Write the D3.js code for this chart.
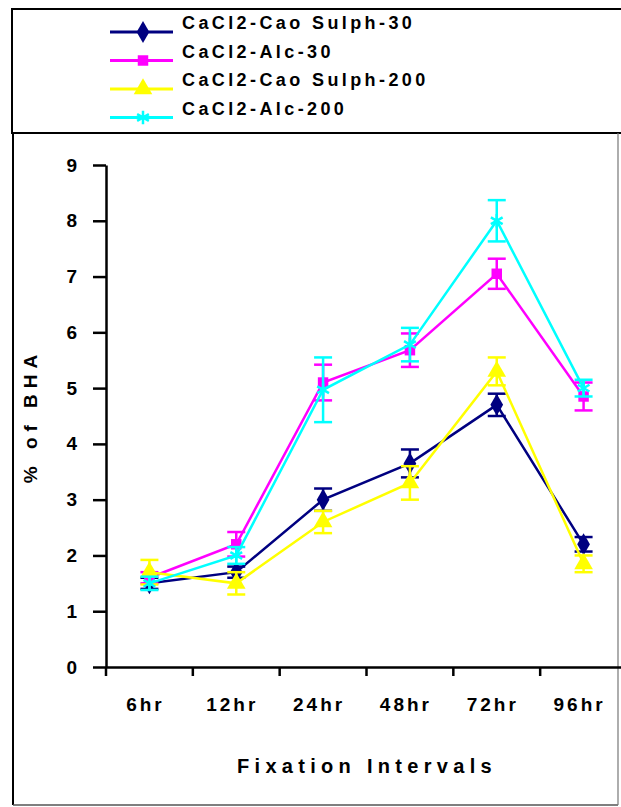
<!DOCTYPE html>
<html>
<head>
<meta charset="utf-8">
<script src="https://cdn.jsdelivr.net/npm/d3@7"></script>
<style>
  body { margin: 0; background: #fff; }
  svg { display: block; }
  text { font-family: "Liberation Sans", Arial, sans-serif; font-weight: bold; fill: #000; }
</style>
</head>
<body>
<div id="chart"></div>
<script>
/* Datos */
const intervals = ["6hr", "12hr", "24hr", "48hr", "72hr", "96hr"];
const seriesNames = ["CaCl2-Cao Sulph-30", "CaCl2-Alc-30", "CaCl2-Cao Sulph-200", "CaCl2-Alc-200"];
const seriesColors = ["#000080", "#ff00ff", "#ffff00", "#00ffff"];
const seriesSymbols = ["diamond", "square", "triangle", "asterisk"];

const caoSulph30 = [1.5, 1.7, 3.0, 3.65, 4.7, 2.2];
const caoSulph30Err = [0.1, 0.1, 0.2, 0.25, 0.2, 0.13];
const alc30 = [1.6, 2.2, 5.1, 5.68, 7.05, 4.85];
const alc30Err = [0.1, 0.22, 0.32, 0.3, 0.27, 0.25];
const caoSulph200 = [1.7, 1.5, 2.6, 3.3, 5.3, 1.85];
const caoSulph200Err = [0.22, 0.2, 0.2, 0.3, 0.25, 0.15];
const alc200 = [1.5, 2.0, 4.97, 5.78, 8.0, 5.0];
const alc200Err = [0.12, 0.15, 0.58, 0.3, 0.37, 0.15];

const yTicks = [0, 1, 2, 3, 4, 5, 6, 7, 8, 9];
const yLabel = "% of BHA";
const xLabel = "Fixation Intervals";

const values = [caoSulph30, alc30, caoSulph200, alc200];
const errors = [caoSulph30Err, alc30Err, caoSulph200Err, alc200Err];

/* Dimensiones */
const W = 621, H = 807;
const svg = d3.select("#chart").append("svg").attr("width", W).attr("height", H);

// marcos
svg.append("rect").attr("x", 12).attr("y", 9).attr("width", 640).attr("height", 124)
  .attr("fill", "none").attr("stroke", "#000").attr("stroke-width", 2);
svg.append("line").attr("x1", 13).attr("x2", 13).attr("y1", 133).attr("y2", 805).attr("stroke", "#000").attr("stroke-width", 2);
svg.append("line").attr("x1", 13).attr("x2", 618).attr("y1", 805).attr("y2", 805).attr("stroke", "#555").attr("stroke-width", 1.5);
svg.append("line").attr("x1", 618).attr("x2", 618).attr("y1", 133).attr("y2", 805).attr("stroke", "#777").attr("stroke-width", 1.2);

/* Escalas */
const x = d3.scaleBand().domain(intervals).range([106, 627]);
const y = d3.scaleLinear().domain([0, 9]).range([667, 165]);
const cx = d => x(d) + x.bandwidth() / 2;

// eje Y
const gy = svg.append("g").attr("transform", "translate(106,0)")
  .call(d3.axisLeft(y).tickValues(yTicks).tickSize(13).tickSizeOuter(0).tickPadding(16));
gy.select(".domain").attr("stroke", "#000").attr("stroke-width", 2.5);
gy.selectAll(".tick line").attr("stroke", "#000").attr("stroke-width", 2.5);
gy.selectAll(".tick text").style("font-size", "19px").style("font-family", "Liberation Sans, Arial, sans-serif").style("font-weight", "bold");

// eje X
const gx = svg.append("g").attr("transform", "translate(0,667)")
  .call(d3.axisBottom(x).tickSize(0).tickSizeOuter(0).tickPadding(31));
gx.select(".domain").attr("stroke", "#000").attr("stroke-width", 2.5);
gx.selectAll(".tick text").attr("dx", -4).style("font-size", "19px").style("letter-spacing", "3px")
  .style("font-family", "Liberation Sans, Arial, sans-serif").style("font-weight", "bold");
gx.selectAll(".bound").data(intervals).join("line").attr("class", "bound")
  .attr("x1", d => x(d)).attr("x2", d => x(d)).attr("y1", 0).attr("y2", 9)
  .attr("stroke", "#000").attr("stroke-width", 2.5);

svg.append("text").attr("x", 367).attr("y", 773).attr("text-anchor", "middle")
  .style("font-size", "20px").style("letter-spacing", "5.3px").text(xLabel);
svg.append("text").attr("transform", "translate(37,416) rotate(-90)").attr("text-anchor", "middle")
  .style("font-size", "19px").style("letter-spacing", "6px").text(yLabel);

/* Símbolos */
const symbolType = {
  diamond: d3.symbolDiamond,
  square: d3.symbolSquare,
  triangle: d3.symbolTriangle,
  asterisk: d3.symbolAsterisk
};
const symbolSize = { diamond: 140, square: 110, triangle: 150, asterisk: 130 };

function drawMarker(g, kind, color, px, py) {
  const path = d3.symbol(symbolType[kind], symbolSize[kind])();
  const m = g.append("path").attr("d", path).attr("transform", `translate(${px},${py})`);
  if (kind === "asterisk") m.attr("fill", "none").attr("stroke", color).attr("stroke-width", 2.5);
  else m.attr("fill", color);
}

/* Series */
const line = d3.line().x((v, i) => cx(intervals[i])).y(v => y(v));
values.forEach((vals, s) => {
  const g = svg.append("g");
  const color = seriesColors[s];
  g.append("path").datum(vals).attr("d", line).attr("fill", "none")
    .attr("stroke", color).attr("stroke-width", 2.5);
  vals.forEach((v, i) => {
    const px = cx(intervals[i]);
    const e = errors[s][i];
    g.append("line").attr("x1", px).attr("x2", px).attr("y1", y(v - e)).attr("y2", y(v + e))
      .attr("stroke", color).attr("stroke-width", 2.5);
    [v - e, v + e].forEach(ev => {
      g.append("line").attr("x1", px - 9).attr("x2", px + 9).attr("y1", y(ev)).attr("y2", y(ev))
        .attr("stroke", color).attr("stroke-width", 2.5);
    });
    drawMarker(g, seriesSymbols[s], color, px, y(v));
  });
});

/* Leyenda */
const legend = svg.append("g");
seriesNames.forEach((name, i) => {
  const ly = 32 + i * 28.5;
  legend.append("line").attr("x1", 110).attr("x2", 173).attr("y1", ly).attr("y2", ly)
    .attr("stroke", seriesColors[i]).attr("stroke-width", 3);
  drawMarker(legend, seriesSymbols[i], seriesColors[i], 143, ly);
  legend.append("text").attr("x", 182).attr("y", ly - 3)
    .style("font-size", "18px").style("letter-spacing", "3.4px").text(name);
});
</script>
</body>
</html>
